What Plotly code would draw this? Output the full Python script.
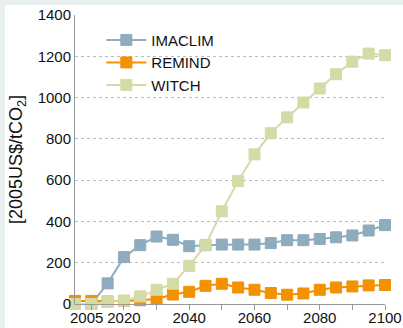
import plotly.graph_objects as go

# Carbon price trajectories by model, 2005-2100 (5-year steps)
years = list(range(2005, 2101, 5))
imaclim = [0, 0, 100, 227, 285, 327, 311, 280, 285, 288, 288, 288, 295, 309, 309, 315, 323, 332, 356, 382]
remind = [15, 15, 12, 15, 18, 24, 46, 59, 88, 98, 80, 69, 53, 45, 51, 69, 80, 85, 90, 92]
witch = [0, 0, 10, 16, 37, 69, 98, 185, 285, 449, 596, 725, 827, 904, 976, 1044, 1113, 1174, 1213, 1205]

series = [
    ("IMACLIM", imaclim, "#8fabbe"),
    ("REMIND", remind, "#f39200"),
    ("WITCH", witch, "#d3dba6"),
]

x_tickvals = list(range(2020, 2101, 20))
x_ticktext = [str(v) for v in x_tickvals]
y_tickvals = list(range(0, 1401, 200))

fig = go.Figure()
for name, vals, color in series:
    fig.add_trace(go.Scatter(
        x=years, y=vals, name=name, mode="lines+markers",
        line=dict(color=color, width=2),
        marker=dict(symbol="square", size=11, color=color,
                    line=dict(color=color, width=1)),
        cliponaxis=False,
    ))

# plot area geometry in pixels (used for the frame bands)
L, W, T, H = 75, 310, 15, 289

def px_x(p):
    return (p - L) / W

def px_y(p):
    return (T + H - p) / H

grey = "#e9eeee"
shapes = [
    dict(type="rect", xref="paper", yref="paper", x0=px_x(0), x1=px_x(5),
         y0=px_y(328), y1=px_y(0), fillcolor=grey, line_width=0, layer="below"),
    dict(type="rect", xref="paper", yref="paper", x0=px_x(0), x1=px_x(403),
         y0=px_y(5), y1=px_y(0), fillcolor=grey, line_width=0, layer="below"),
]

fig.update_layout(
    width=403, height=328,
    margin=dict(l=L, r=403 - L - W, t=T, b=328 - T - H, autoexpand=False),
    paper_bgcolor="white", plot_bgcolor="white",
    font=dict(family="Liberation Sans, Arial, sans-serif", size=14, color="#111111"),
    shapes=shapes,
    showlegend=True,
    legend=dict(x=0.085, y=0.97, xanchor="left", yanchor="top",
                bgcolor="rgba(0,0,0,0)", font=dict(size=15),
                tracegroupgap=0, itemwidth=40),
    xaxis=dict(range=[2005, 2100], tickmode="array", tickvals=x_tickvals,
               ticktext=x_ticktext, ticks="outside", ticklen=5, tickcolor="#999999",
               ticklabelstandoff=-5, automargin=False,
               minor=dict(ticks="outside", ticklen=5, tickcolor="#999999",
                          tick0=2010, dtick=10, showgrid=False),
               showline=True, linecolor="#999999", linewidth=1,
               showgrid=False, zeroline=False, tickfont=dict(size=15)),
    yaxis=dict(range=[0, 1400], tickmode="array", tickvals=y_tickvals,
               ticks="", showline=True, linecolor="#999999", linewidth=1,
               automargin=False,
               showgrid=True, gridcolor="#bbbbbb", griddash="dot", gridwidth=1,
               zeroline=False, tickfont=dict(size=15),
               title=dict(text="[2005US$/tCO<sub>2</sub>]", font=dict(size=18), standoff=10)),
    annotations=[
        dict(text="2005", x=2008.6, y=0, xref="x", yref="y", showarrow=False,
             yanchor="top", yshift=-3, font=dict(size=15)),
    ],
)

fig.write_html("out.html")
